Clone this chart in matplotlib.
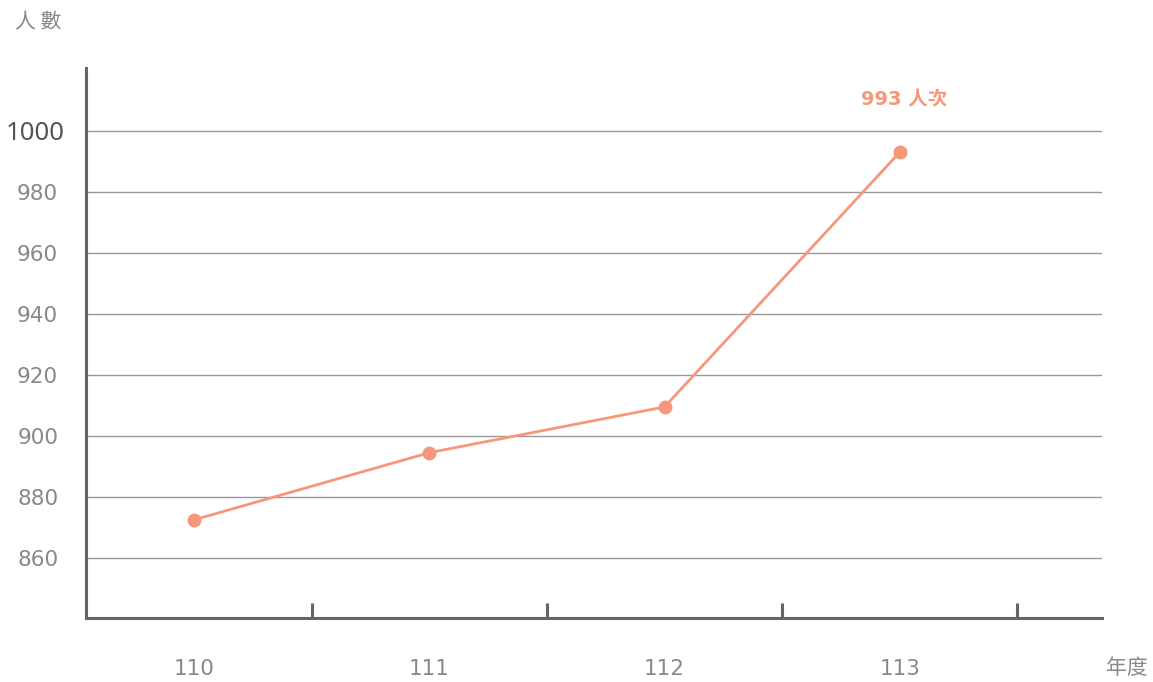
import matplotlib
matplotlib.use("Agg")
import matplotlib.pyplot as plt

plt.rcParams['font.family'] = ['DejaVu Sans', 'Noto Sans CJK TC']

years = ['110', '111', '112', '113']
values = [872.5, 894.5, 909.5, 993]
yticks = [860, 880, 900, 920, 940, 960, 980, 1000]
annot = '993 人次'
line_color = '#F7977A'

fig = plt.figure(figsize=(11.53, 6.82), dpi=100)
W, H = 1153, 682
ax = fig.add_axes([86 / W, 1 - 618 / H, (1102 - 86) / W, (618 - 68) / H])

x = list(range(len(years)))
ax.plot(x, values, color=line_color, lw=2, marker='o', ms=9, zorder=3)

ax.set_xlim(-0.46, 3.86)
ax.set_ylim(840.3, 1020.6)

for v in yticks:
    ax.axhline(v, color='#999999', lw=1, zorder=1)

ax.set_yticks(yticks)
ax.set_yticklabels([str(v) for v in yticks])
ax.tick_params(axis='y', length=0, pad=20, labelsize=15.5, labelcolor='#888888')
for tick, v in zip(ax.yaxis.get_major_ticks(), yticks):
    if v == 1000:
        tick.set_pad(15)
        lab = tick.label1
        lab.set_color('#555555')
        lab.set_family(['Noto Sans', 'DejaVu Sans'])
        lab.set_fontsize(18.5)

ax.set_xticks([i + 0.5 for i in range(len(years))])
ax.set_xticklabels([])
ax.tick_params(axis='x', direction='in', length=11, width=2.2, color='#666666')

for i, y in enumerate(years):
    ax.text(i, -0.092, y, transform=ax.get_xaxis_transform(), ha='center', va='center',
            fontsize=15.5, color='#888888')

for s in ['top', 'right']:
    ax.spines[s].set_visible(False)
for s in ['left', 'bottom']:
    ax.spines[s].set_color('#666666')
    ax.spines[s].set_linewidth(2.2)

ax.annotate(annot, xy=(3, values[3]), xytext=(3, 38), textcoords='offset points',
            ha='center', va='center', fontsize=14, color=line_color, fontweight='bold',
            family=['DejaVu Sans', 'Noto Sans CJK TC'])

fig.text(15 / W, 1 - 22 / H, '人 數', ha='left', va='center', fontsize=15, color='#888888',
         family=['Noto Sans CJK TC'])
fig.text(1127 / W, 1 - 668 / H, '年度', ha='center', va='center', fontsize=15, color='#888888',
         family=['Noto Sans CJK TC'])

fig.savefig('out.png', dpi=100)
